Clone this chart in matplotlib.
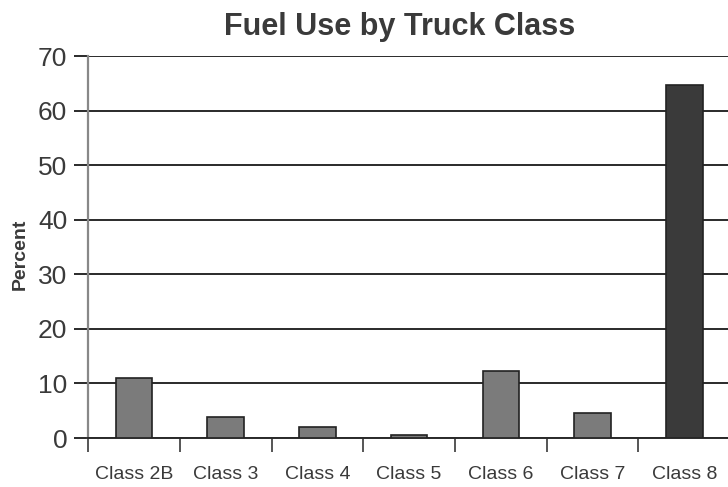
import matplotlib
matplotlib.use("Agg")
import matplotlib.pyplot as plt
import numpy as np

# values (percent of fuel use)
classes = ['Class 2B', 'Class 3', 'Class 4', 'Class 5', 'Class 6', 'Class 7', 'Class 8']
percent = [11.0, 3.9, 2.0, 0.6, 12.3, 4.6, 64.7]
yticks = [0, 10, 20, 30, 40, 50, 60, 70]

plt.rcParams['font.family'] = ['Liberation Sans', 'DejaVu Sans']

fig = plt.figure(figsize=(7.28, 4.87), dpi=100)
ax = fig.add_axes([0.121, 0.1006, 0.882, 0.7844])

x = np.arange(len(classes))
colors = ['#7b7b7b'] * (len(classes) - 1) + ['#3a3a3a']
ax.bar(x, percent, width=0.40, color=colors, edgecolor='#222222', linewidth=1.2, zorder=3)

ax.set_xlim(-0.5, len(classes) - 0.5)
ax.set_ylim(0, 70)
ax.set_yticks(yticks)
ax.set_yticklabels([str(v) for v in yticks], fontsize=19, color='#3a3a3a')
ax.yaxis.grid(True, color='#2a2a2a', linewidth=1.4)
ax.set_axisbelow(True)
ax.tick_params(axis='y', length=10, width=1.4, color='#2a2a2a', pad=5)

# category labels centered, tick marks between categories
ax.set_xticks(x)
ax.set_xticklabels(classes, fontsize=14, color='#3a3a3a')
ax.tick_params(axis='x', length=0, pad=20)
ax.set_xticks(np.arange(-0.5, len(classes) - 0.5), minor=True)
ax.tick_params(axis='x', which='minor', length=10, width=1.4, color='#555555', direction='out')

for side in ['top', 'right']:
    ax.spines[side].set_visible(False)
ax.spines['left'].set_color('#888888')
ax.spines['left'].set_linewidth(1.6)
ax.spines['bottom'].set_color('#2a2a2a')
ax.spines['bottom'].set_linewidth(1.4)

fig.text(20 / 728, 1 - 254 / 487, 'Percent', rotation=90, ha='center', va='center',
         fontsize=14, fontweight='bold', color='#3a3a3a')
fig.text(400 / 728, 1 - 27 / 487, 'Fuel Use by Truck Class', ha='center', va='center',
         fontsize=22, fontweight='bold', color='#3a3a3a')

fig.savefig('out.png', dpi=100)
